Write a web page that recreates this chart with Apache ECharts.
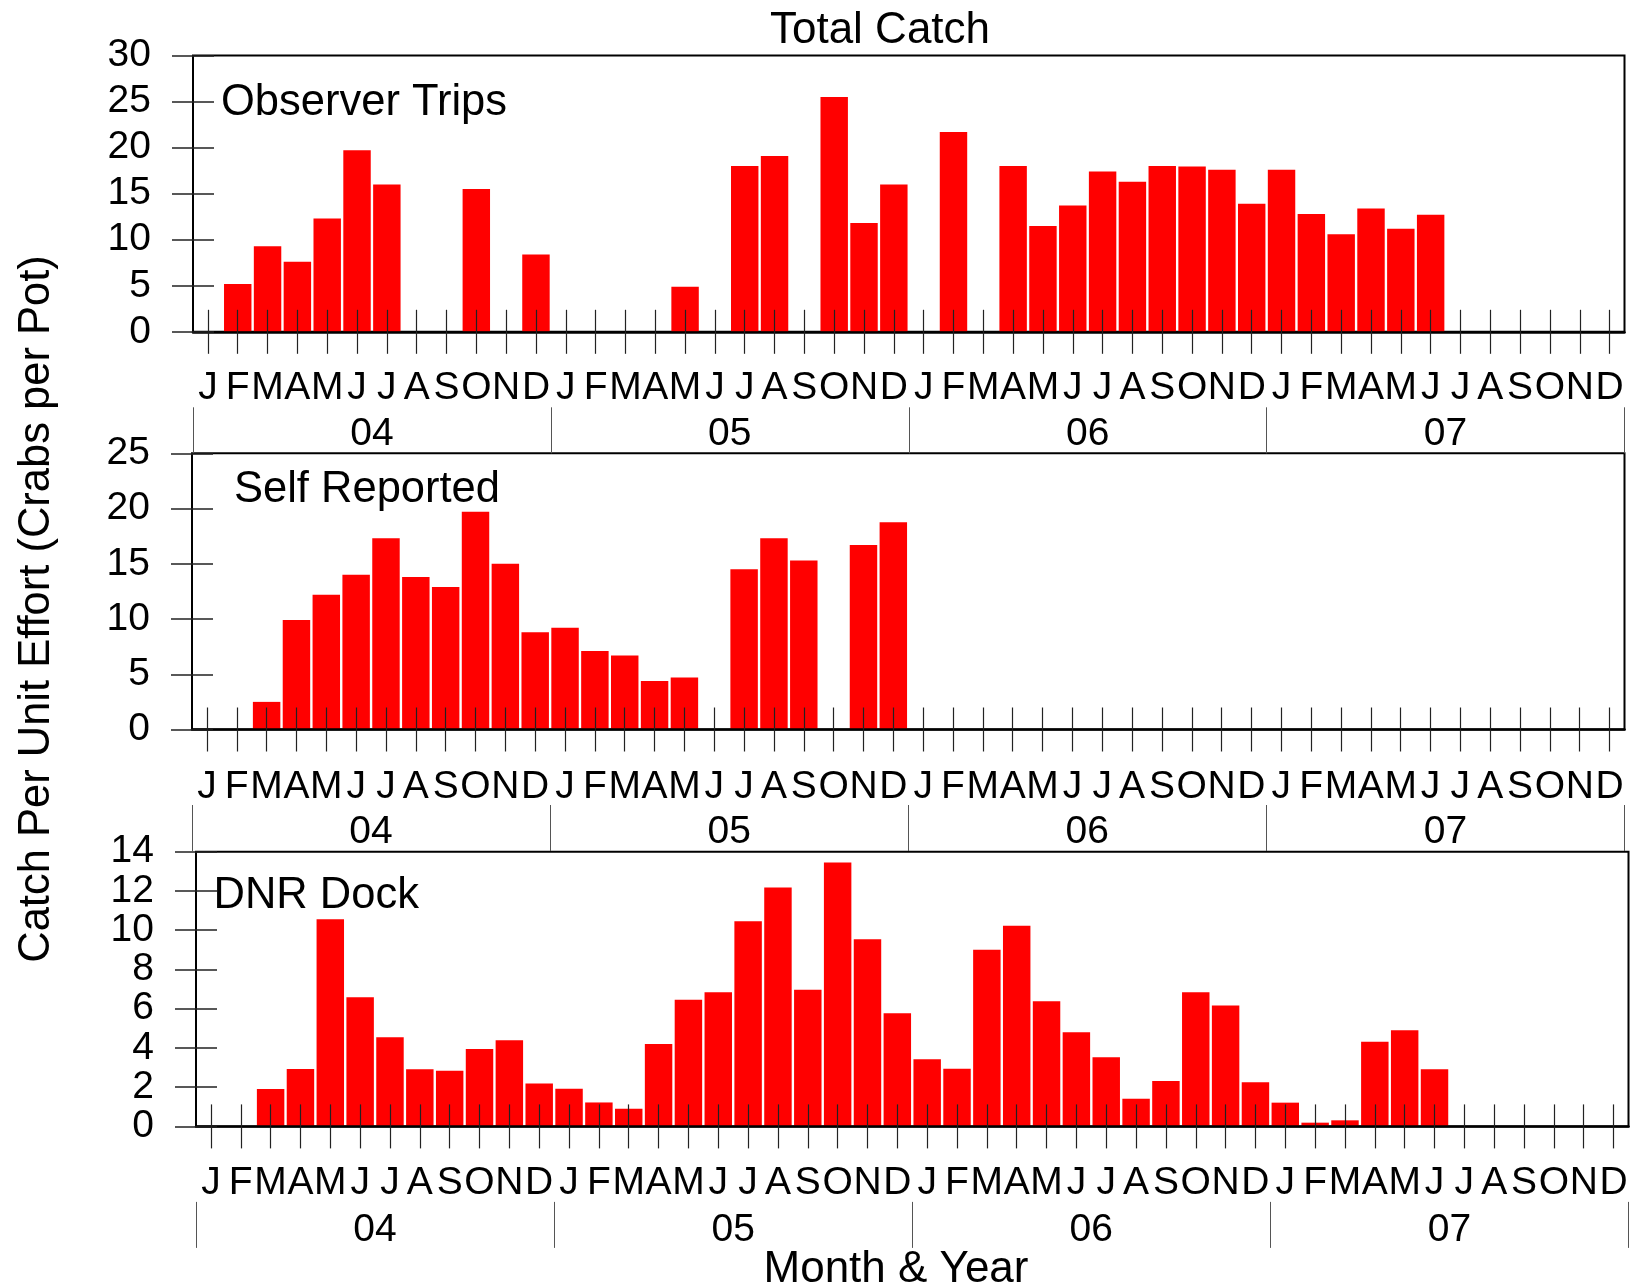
<!DOCTYPE html>
<html>
<head>
<meta charset="utf-8">
<title>Total Catch</title>
<script src="https://cdn.jsdelivr.net/npm/echarts@6/dist/echarts.min.js"></script>
<style>
  html, body { margin: 0; padding: 0; background: #fff; }
  #chart { width: 1636px; height: 1287px; }
</style>
</head>
<body>
<div id="chart"></div>
<script>
// Monthly catch per unit effort, Jan 2004 - Dec 2007 (null = no data that month)
const monthInitials = ['J', 'F', 'M', 'A', 'M', 'J', 'J', 'A', 'S', 'O', 'N', 'D'];
const yearLabels = ['04', '05', '06', '07'];

const observerTrips = [
  null, 5.2, 9.3, 7.6, 12.3, 19.7, 16.0, null, null, 15.5, null, 8.4,
  null, null, null, null, 4.9, null, 18.0, 19.1, null, 25.5, 11.8, 16.0,
  null, 21.7, null, 18.0, 11.5, 13.7, 17.4, 16.3, 18.0, 17.95, 17.6, 13.9,
  17.6, 12.8, 10.6, 13.4, 11.2, 12.7, null, null, null, null, null, null
];
const selfReported = [
  null, null, 2.5, 9.9, 12.2, 14.0, 17.3, 13.8, 12.9, 19.7, 15.0, 8.8,
  9.2, 7.1, 6.7, 4.4, 4.7, null, 14.5, 17.3, 15.3, null, 16.7, 18.75,
  null, null, null, null, null, null, null, null, null, null, null, null,
  null, null, null, null, null, null, null, null, null, null, null, null
];
const dnrDock = [
  null, null, 1.9, 2.93, 10.56, 6.58, 4.54, 2.91, 2.84, 3.95, 4.39, 2.19,
  1.92, 1.22, 0.9, 4.2, 6.46, 6.84, 10.46, 12.18, 6.96, 13.45, 9.54, 5.77,
  3.42, 2.94, 9.0, 10.22, 6.38, 4.8, 3.52, 1.41, 2.31, 6.84, 6.16, 2.25,
  1.21, 0.19, 0.31, 4.32, 4.9, 2.91, null, null, null, null, null, null
];

const panelNames = ['Observer Trips', 'Self Reported', 'DNR Dock'];
const panelSeries = [observerTrips, selfReported, dnrDock];
const yMax = [30, 25, 14];
const yStep = [5, 5, 2];

// one category per month, e.g. 2004-01
const monthCategories = yearLabels.flatMap(y =>
  monthInitials.map((m, i) => '20' + y + '-' + String(i + 1).padStart(2, '0')));

const FONT = '"Liberation Sans", Arial, Helvetica, sans-serif';

// panel frames (pixels)
const frames = [
  { left: 193, right: 11.5, top: 55.5, height: 276.3, monthMargin: 37, yearMargin: 7.5, labelX: 221, labelY: 103 },
  { left: 192, right: 11.5, top: 453.3, height: 276.2, monthMargin: 38, yearMargin: 8, labelX: 234, labelY: 490 },
  { left: 196, right: 7.5, top: 851.7, height: 274.7, monthMargin: 37.5, yearMargin: 8.5, labelX: 213.5, labelY: 896 }
];

const grids = [], xAxes = [], yAxes = [], series = [], texts = [];

frames.forEach((f, g) => {
  grids.push({
    left: f.left, right: f.right, top: f.top, height: f.height,
    show: true, borderColor: '#000', borderWidth: 2, backgroundColor: 'transparent'
  });

  // month axis: zero line, outward ticks, month initials
  xAxes.push({
    type: 'category', gridIndex: g, data: monthCategories, position: 'bottom', z: 6,
    axisLine: { show: true, onZero: false, lineStyle: { color: '#000', width: 2.5 } },
    axisTick: { show: true, alignWithLabel: true, interval: 0, length: 22,
      lineStyle: { color: '#222', width: 1.2 } },
    axisLabel: { interval: 0, margin: f.monthMargin, fontSize: 39, color: '#000',
      fontFamily: FONT, formatter: (v, i) => monthInitials[i % 12] },
    splitLine: { show: false }
  });
  // month axis: inward half of the ticks, drawn over the bars
  xAxes.push({
    type: 'category', gridIndex: g, data: monthCategories, position: 'bottom', z: 6,
    axisLine: { show: false },
    axisTick: { show: true, inside: true, alignWithLabel: true, interval: 0, length: 22,
      lineStyle: { color: '#222', width: 1.2 } },
    axisLabel: { show: false },
    splitLine: { show: false }
  });

  yAxes.push({
    type: 'value', gridIndex: g, min: 0, max: yMax[g], interval: yStep[g], position: 'left', z: 6,
    axisLine: { show: false },
    axisTick: { show: true, length: 21, lineStyle: { color: '#222', width: 1.5 } },
    axisLabel: { margin: 42, fontSize: 39, color: '#000', fontFamily: FONT },
    splitLine: { show: false }
  });
  yAxes.push({
    type: 'value', gridIndex: g, min: 0, max: yMax[g], interval: yStep[g], position: 'left', z: 6,
    axisLine: { show: false },
    axisTick: { show: true, inside: true, length: 21, lineStyle: { color: '#222', width: 1.5 } },
    axisLabel: { show: false },
    splitLine: { show: false }
  });

  series.push({
    type: 'bar', name: panelNames[g], xAxisIndex: xAxes.length - 2, yAxisIndex: yAxes.length - 2,
    data: panelSeries[g], barCategoryGap: '8%', z: 2, silent: true,
    itemStyle: { color: '#ff0000' }
  });

  texts.push({
    type: 'text', x: f.labelX, y: f.labelY, z: 10,
    style: { text: panelNames[g], fontSize: 43.5, fill: '#000', fontFamily: FONT,
      textAlign: 'left', textVerticalAlign: 'middle' }
  });
});

// year strip under each panel: separator lines at year boundaries, year labels
frames.forEach((f, g) => {
  const zeroY = f.top + f.height;
  const gi = grids.length;
  grids.push({ left: f.left, right: f.right, top: zeroY + 75.5, height: 46, show: false });
  xAxes.push({
    type: 'category', gridIndex: gi, data: yearLabels, position: 'top', z: 6,
    axisLine: { show: false },
    axisTick: { show: false },
    axisLabel: { inside: true, interval: 0, margin: f.yearMargin, fontSize: 39,
      color: '#000', fontFamily: FONT },
    splitLine: { show: true, interval: 0, lineStyle: { color: '#555', width: 1 } }
  });
  yAxes.push({ type: 'value', gridIndex: gi, show: false, min: 0, max: 1 });
});

texts.push({
  type: 'text', x: 880, y: 31, z: 10,
  style: { text: 'Total Catch', fontSize: 44, fill: '#000', fontFamily: FONT,
    textAlign: 'center', textVerticalAlign: 'middle' }
});
texts.push({
  type: 'text', x: 896, y: 1270, z: 10,
  style: { text: 'Month & Year', fontSize: 44, fill: '#000', fontFamily: FONT,
    textAlign: 'center', textVerticalAlign: 'middle' }
});
texts.push({
  type: 'text', x: 37, y: 609, rotation: Math.PI / 2, z: 10,
  style: { text: 'Catch Per Unit Effort (Crabs per Pot)', fontSize: 43.5, fill: '#000',
    fontFamily: FONT, textAlign: 'center', textVerticalAlign: 'middle' }
});

const chart = echarts.init(document.getElementById('chart'), null, { renderer: 'canvas' });
chart.setOption({
  backgroundColor: '#ffffff',
  animation: false,
  grid: grids,
  xAxis: xAxes,
  yAxis: yAxes,
  series: series,
  graphic: texts
});
</script>
</body>
</html>
